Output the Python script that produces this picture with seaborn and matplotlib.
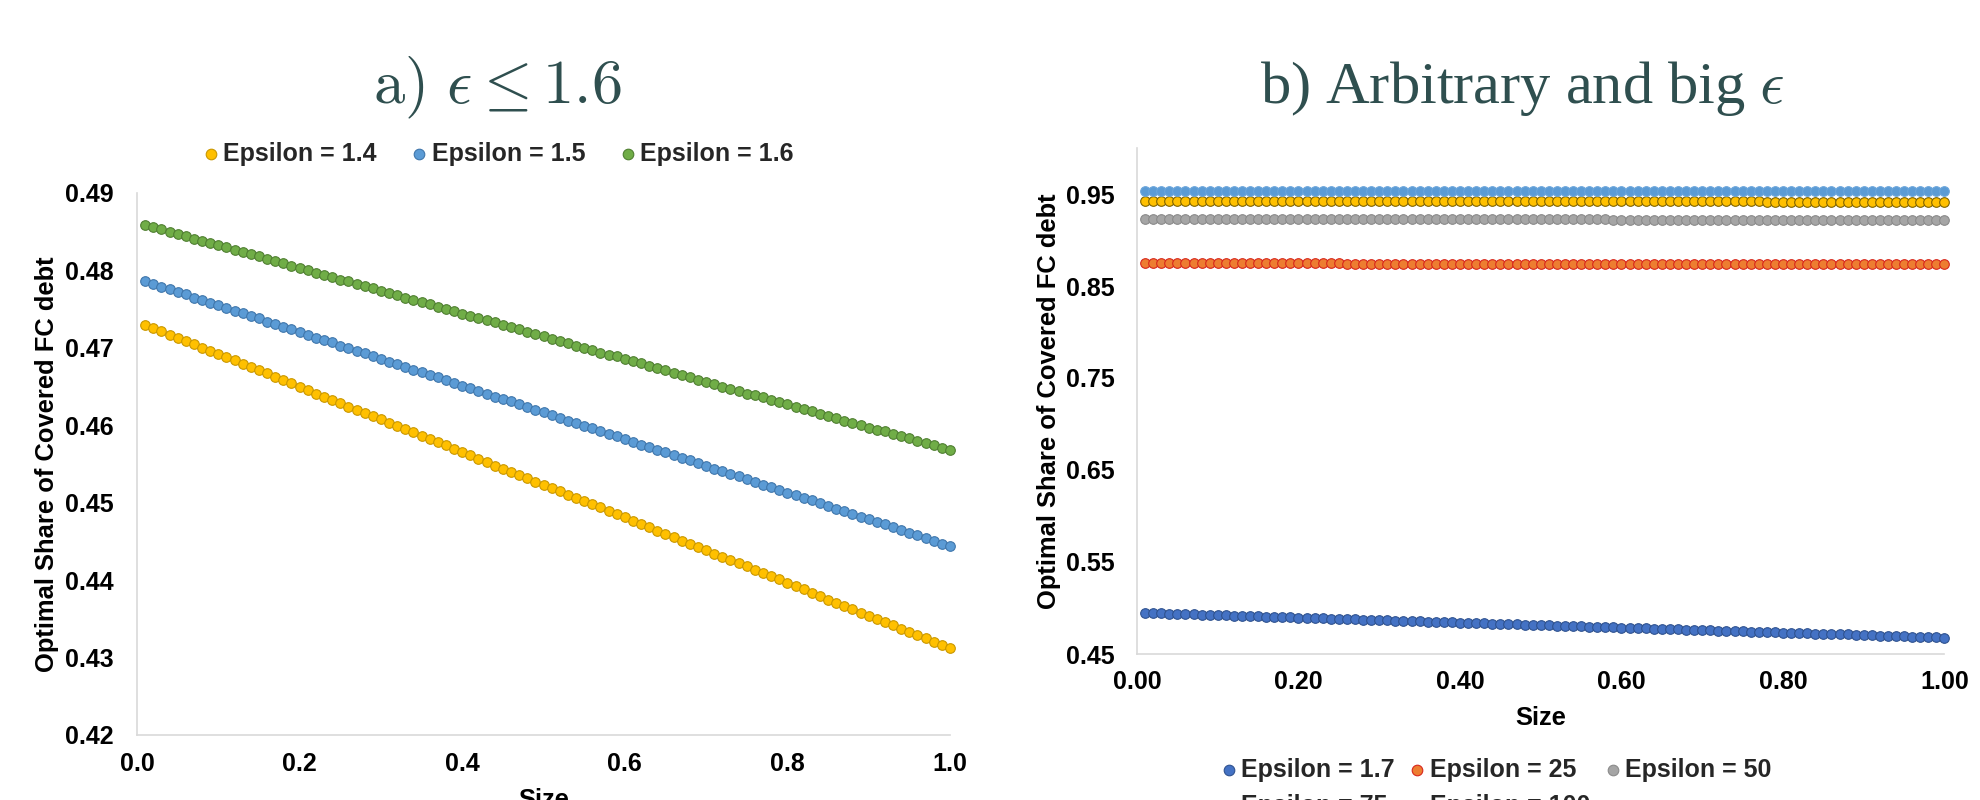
import matplotlib
matplotlib.use("Agg")
import matplotlib.pyplot as plt
from matplotlib.ticker import FormatStrFormatter
import pandas as pd
import seaborn as sns

# x grid (Size)
size = [0.01, 0.02, 0.03, 0.04, 0.05, 0.06, 0.07, 0.08, 0.09, 0.10,
        0.11, 0.12, 0.13, 0.14, 0.15, 0.16, 0.17, 0.18, 0.19, 0.20,
        0.21, 0.22, 0.23, 0.24, 0.25, 0.26, 0.27, 0.28, 0.29, 0.30,
        0.31, 0.32, 0.33, 0.34, 0.35, 0.36, 0.37, 0.38, 0.39, 0.40,
        0.41, 0.42, 0.43, 0.44, 0.45, 0.46, 0.47, 0.48, 0.49, 0.50,
        0.51, 0.52, 0.53, 0.54, 0.55, 0.56, 0.57, 0.58, 0.59, 0.60,
        0.61, 0.62, 0.63, 0.64, 0.65, 0.66, 0.67, 0.68, 0.69, 0.70,
        0.71, 0.72, 0.73, 0.74, 0.75, 0.76, 0.77, 0.78, 0.79, 0.80,
        0.81, 0.82, 0.83, 0.84, 0.85, 0.86, 0.87, 0.88, 0.89, 0.90,
        0.91, 0.92, 0.93, 0.94, 0.95, 0.96, 0.97, 0.98, 0.99, 1.00]

# panel a
eps_14 = [0.4730, 0.4726, 0.4722, 0.4717, 0.4713, 0.4709, 0.4705, 0.4700, 0.4696, 0.4692,
          0.4688, 0.4684, 0.4679, 0.4675, 0.4671, 0.4667, 0.4662, 0.4658, 0.4654, 0.4650,
          0.4646, 0.4641, 0.4637, 0.4633, 0.4629, 0.4624, 0.4620, 0.4616, 0.4612, 0.4608,
          0.4603, 0.4599, 0.4595, 0.4591, 0.4586, 0.4582, 0.4578, 0.4574, 0.4570, 0.4565,
          0.4561, 0.4557, 0.4553, 0.4548, 0.4544, 0.4540, 0.4536, 0.4532, 0.4527, 0.4523,
          0.4519, 0.4515, 0.4510, 0.4506, 0.4502, 0.4498, 0.4494, 0.4489, 0.4485, 0.4481,
          0.4477, 0.4472, 0.4468, 0.4464, 0.4460, 0.4456, 0.4451, 0.4447, 0.4443, 0.4439,
          0.4434, 0.4430, 0.4426, 0.4422, 0.4418, 0.4413, 0.4409, 0.4405, 0.4401, 0.4396,
          0.4392, 0.4388, 0.4384, 0.4380, 0.4375, 0.4371, 0.4367, 0.4363, 0.4358, 0.4354,
          0.4350, 0.4346, 0.4342, 0.4337, 0.4333, 0.4329, 0.4325, 0.4320, 0.4316, 0.4312]

eps_15 = [0.4786, 0.4783, 0.4779, 0.4776, 0.4772, 0.4769, 0.4765, 0.4762, 0.4758, 0.4755,
          0.4751, 0.4748, 0.4745, 0.4741, 0.4738, 0.4734, 0.4731, 0.4727, 0.4724, 0.4720,
          0.4717, 0.4713, 0.4710, 0.4707, 0.4703, 0.4700, 0.4696, 0.4693, 0.4689, 0.4686,
          0.4682, 0.4679, 0.4675, 0.4672, 0.4669, 0.4665, 0.4662, 0.4658, 0.4655, 0.4651,
          0.4648, 0.4644, 0.4641, 0.4637, 0.4634, 0.4631, 0.4627, 0.4624, 0.4620, 0.4617,
          0.4613, 0.4610, 0.4606, 0.4603, 0.4599, 0.4596, 0.4593, 0.4589, 0.4586, 0.4582,
          0.4579, 0.4575, 0.4572, 0.4568, 0.4565, 0.4561, 0.4558, 0.4555, 0.4551, 0.4548,
          0.4544, 0.4541, 0.4537, 0.4534, 0.4530, 0.4527, 0.4523, 0.4520, 0.4517, 0.4513,
          0.4510, 0.4506, 0.4503, 0.4499, 0.4496, 0.4492, 0.4489, 0.4485, 0.4482, 0.4479,
          0.4475, 0.4472, 0.4468, 0.4465, 0.4461, 0.4458, 0.4454, 0.4451, 0.4447, 0.4444]

eps_16 = [0.4859, 0.4856, 0.4853, 0.4850, 0.4847, 0.4844, 0.4841, 0.4838, 0.4835, 0.4833,
          0.4830, 0.4827, 0.4824, 0.4821, 0.4818, 0.4815, 0.4812, 0.4809, 0.4806, 0.4803,
          0.4800, 0.4797, 0.4794, 0.4791, 0.4788, 0.4786, 0.4783, 0.4780, 0.4777, 0.4774,
          0.4771, 0.4768, 0.4765, 0.4762, 0.4759, 0.4756, 0.4753, 0.4750, 0.4747, 0.4744,
          0.4741, 0.4738, 0.4736, 0.4733, 0.4730, 0.4727, 0.4724, 0.4721, 0.4718, 0.4715,
          0.4712, 0.4709, 0.4706, 0.4703, 0.4700, 0.4697, 0.4694, 0.4691, 0.4689, 0.4686,
          0.4683, 0.4680, 0.4677, 0.4674, 0.4671, 0.4668, 0.4665, 0.4662, 0.4659, 0.4656,
          0.4653, 0.4650, 0.4647, 0.4644, 0.4641, 0.4639, 0.4636, 0.4633, 0.4630, 0.4627,
          0.4624, 0.4621, 0.4618, 0.4615, 0.4612, 0.4609, 0.4606, 0.4603, 0.4600, 0.4597,
          0.4594, 0.4592, 0.4589, 0.4586, 0.4583, 0.4580, 0.4577, 0.4574, 0.4571, 0.4568]

# panel b
eps_17 = [0.4947, 0.4944, 0.4942, 0.4939, 0.4936, 0.4933, 0.4931, 0.4928, 0.4925, 0.4923,
          0.4920, 0.4917, 0.4915, 0.4912, 0.4909, 0.4906, 0.4904, 0.4901, 0.4898, 0.4896,
          0.4893, 0.4890, 0.4887, 0.4885, 0.4882, 0.4879, 0.4877, 0.4874, 0.4871, 0.4868,
          0.4866, 0.4863, 0.4860, 0.4858, 0.4855, 0.4852, 0.4850, 0.4847, 0.4844, 0.4841,
          0.4839, 0.4836, 0.4833, 0.4831, 0.4828, 0.4825, 0.4822, 0.4820, 0.4817, 0.4814,
          0.4812, 0.4809, 0.4806, 0.4804, 0.4801, 0.4798, 0.4795, 0.4793, 0.4790, 0.4787,
          0.4785, 0.4782, 0.4779, 0.4776, 0.4774, 0.4771, 0.4768, 0.4766, 0.4763, 0.4760,
          0.4758, 0.4755, 0.4752, 0.4749, 0.4747, 0.4744, 0.4741, 0.4739, 0.4736, 0.4733,
          0.4730, 0.4728, 0.4725, 0.4722, 0.4720, 0.4717, 0.4714, 0.4712, 0.4709, 0.4706,
          0.4703, 0.4701, 0.4698, 0.4695, 0.4693, 0.4690, 0.4687, 0.4684, 0.4682, 0.4679]

eps_25 = [0.8748, 0.8748, 0.8748, 0.8748, 0.8747, 0.8747, 0.8747, 0.8747, 0.8747, 0.8747,
          0.8747, 0.8746, 0.8746, 0.8746, 0.8746, 0.8746, 0.8746, 0.8746, 0.8745, 0.8745,
          0.8745, 0.8745, 0.8745, 0.8745, 0.8745, 0.8744, 0.8744, 0.8744, 0.8744, 0.8744,
          0.8744, 0.8744, 0.8743, 0.8743, 0.8743, 0.8743, 0.8743, 0.8743, 0.8743, 0.8742,
          0.8742, 0.8742, 0.8742, 0.8742, 0.8742, 0.8742, 0.8741, 0.8741, 0.8741, 0.8741,
          0.8741, 0.8741, 0.8741, 0.8740, 0.8740, 0.8740, 0.8740, 0.8740, 0.8740, 0.8740,
          0.8739, 0.8739, 0.8739, 0.8739, 0.8739, 0.8739, 0.8739, 0.8738, 0.8738, 0.8738,
          0.8738, 0.8738, 0.8738, 0.8738, 0.8737, 0.8737, 0.8737, 0.8737, 0.8737, 0.8737,
          0.8737, 0.8736, 0.8736, 0.8736, 0.8736, 0.8736, 0.8736, 0.8736, 0.8735, 0.8735,
          0.8735, 0.8735, 0.8735, 0.8735, 0.8735, 0.8734, 0.8734, 0.8734, 0.8734, 0.8734]

eps_50 = [0.9229, 0.9229, 0.9229, 0.9229, 0.9228, 0.9228, 0.9228, 0.9228, 0.9228, 0.9228,
          0.9228, 0.9228, 0.9228, 0.9227, 0.9227, 0.9227, 0.9227, 0.9227, 0.9227, 0.9227,
          0.9227, 0.9227, 0.9226, 0.9226, 0.9226, 0.9226, 0.9226, 0.9226, 0.9226, 0.9226,
          0.9226, 0.9225, 0.9225, 0.9225, 0.9225, 0.9225, 0.9225, 0.9225, 0.9225, 0.9225,
          0.9224, 0.9224, 0.9224, 0.9224, 0.9224, 0.9224, 0.9224, 0.9224, 0.9224, 0.9223,
          0.9223, 0.9223, 0.9223, 0.9223, 0.9223, 0.9223, 0.9223, 0.9223, 0.9222, 0.9222,
          0.9222, 0.9222, 0.9222, 0.9222, 0.9222, 0.9222, 0.9222, 0.9221, 0.9221, 0.9221,
          0.9221, 0.9221, 0.9221, 0.9221, 0.9221, 0.9221, 0.9220, 0.9220, 0.9220, 0.9220,
          0.9220, 0.9220, 0.9220, 0.9220, 0.9220, 0.9219, 0.9219, 0.9219, 0.9219, 0.9219,
          0.9219, 0.9219, 0.9219, 0.9219, 0.9218, 0.9218, 0.9218, 0.9218, 0.9218, 0.9218]

eps_75 = [0.9427, 0.9427, 0.9427, 0.9427, 0.9427, 0.9426, 0.9426, 0.9426, 0.9426, 0.9426,
          0.9426, 0.9426, 0.9426, 0.9426, 0.9425, 0.9425, 0.9425, 0.9425, 0.9425, 0.9425,
          0.9425, 0.9425, 0.9425, 0.9424, 0.9424, 0.9424, 0.9424, 0.9424, 0.9424, 0.9424,
          0.9424, 0.9424, 0.9423, 0.9423, 0.9423, 0.9423, 0.9423, 0.9423, 0.9423, 0.9423,
          0.9423, 0.9422, 0.9422, 0.9422, 0.9422, 0.9422, 0.9422, 0.9422, 0.9422, 0.9422,
          0.9421, 0.9421, 0.9421, 0.9421, 0.9421, 0.9421, 0.9421, 0.9421, 0.9421, 0.9420,
          0.9420, 0.9420, 0.9420, 0.9420, 0.9420, 0.9420, 0.9420, 0.9420, 0.9419, 0.9419,
          0.9419, 0.9419, 0.9419, 0.9419, 0.9419, 0.9419, 0.9419, 0.9418, 0.9418, 0.9418,
          0.9418, 0.9418, 0.9418, 0.9418, 0.9418, 0.9418, 0.9417, 0.9417, 0.9417, 0.9417,
          0.9417, 0.9417, 0.9417, 0.9417, 0.9417, 0.9417, 0.9417, 0.9417, 0.9417, 0.9417]

eps_100 = [0.9536, 0.9536, 0.9536, 0.9536, 0.9536, 0.9536, 0.9536, 0.9536, 0.9536, 0.9536,
           0.9536, 0.9535, 0.9535, 0.9535, 0.9535, 0.9535, 0.9535, 0.9535, 0.9535, 0.9535,
           0.9535, 0.9535, 0.9534, 0.9534, 0.9534, 0.9534, 0.9534, 0.9534, 0.9534, 0.9534,
           0.9534, 0.9534, 0.9534, 0.9534, 0.9533, 0.9533, 0.9533, 0.9533, 0.9533, 0.9533,
           0.9533, 0.9533, 0.9533, 0.9533, 0.9533, 0.9533, 0.9532, 0.9532, 0.9532, 0.9532,
           0.9532, 0.9532, 0.9532, 0.9532, 0.9532, 0.9532, 0.9532, 0.9532, 0.9531, 0.9531,
           0.9531, 0.9531, 0.9531, 0.9531, 0.9531, 0.9531, 0.9531, 0.9531, 0.9531, 0.9531,
           0.9530, 0.9530, 0.9530, 0.9530, 0.9530, 0.9530, 0.9530, 0.9530, 0.9530, 0.9530,
           0.9530, 0.9530, 0.9529, 0.9529, 0.9529, 0.9529, 0.9529, 0.9529, 0.9529, 0.9529,
           0.9529, 0.9529, 0.9529, 0.9529, 0.9528, 0.9528, 0.9528, 0.9528, 0.9528, 0.9528]

left_labels = ['Epsilon = 1.4', 'Epsilon = 1.5', 'Epsilon = 1.6']
right_labels = ['Epsilon = 1.7', 'Epsilon = 25', 'Epsilon = 50', 'Epsilon = 75', 'Epsilon = 100']
left_yticks = [0.42, 0.43, 0.44, 0.45, 0.46, 0.47, 0.48, 0.49]
left_xticks = [0.0, 0.2, 0.4, 0.6, 0.8, 1.0]
right_yticks = [0.45, 0.55, 0.65, 0.75, 0.85, 0.95]
right_xticks = [0.0, 0.2, 0.4, 0.6, 0.8, 1.0]

left_fill = ['#FFC000', '#5B9BD5', '#70AD47']
left_edge = ['#C99700', '#3F76AB', '#4F7F31']
right_fill = ['#4472C4', '#ED7D31', '#A5A5A5', '#FFC000', '#5B9BD5']
right_edge = ['#2F528F', '#D8261C', '#8A8A8A', '#7F6400', '#6AA5DB']

df_left = pd.DataFrame({'Size': size * 3,
                        'Share': eps_14 + eps_15 + eps_16,
                        'Series': [lab for lab in left_labels for _ in size]})
df_right = pd.DataFrame({'Size': size * 5,
                         'Share': eps_17 + eps_25 + eps_50 + eps_75 + eps_100,
                         'Series': [lab for lab in right_labels for _ in size]})

sns.set_theme(style='white')
plt.rcParams['font.family'] = ['Liberation Sans', 'DejaVu Sans']
plt.rcParams['mathtext.fontset'] = 'cm'

W, H = 1981, 800
fig = plt.figure(figsize=(W / 100, H / 100), dpi=100)
ax1 = fig.add_axes([137 / W, 1 - 735 / H, (950 - 137) / W, (735 - 193) / H])
ax2 = fig.add_axes([1137 / W, 1 - 654 / H, (1944.5 - 1137) / W, (654 - 148) / H])

for lab, fc, ec in zip(left_labels, left_fill, left_edge):
    sns.scatterplot(data=df_left[df_left['Series'] == lab], x='Size', y='Share', ax=ax1,
                    color=fc, edgecolor=ec, linewidth=0.8, s=48, label=lab,
                    clip_on=False, zorder=3)
for lab, fc, ec in zip(right_labels, right_fill, right_edge):
    sns.scatterplot(data=df_right[df_right['Series'] == lab], x='Size', y='Share', ax=ax2,
                    color=fc, edgecolor=ec, linewidth=0.8, s=48, label=lab,
                    clip_on=False, zorder=3)

def style_axis(ax, xticks, yticks, xfmt, yfmt, ylim, xpad, ypad):
    ax.set_xlim(0, 1.0)
    ax.set_ylim(*ylim)
    ax.set_xticks(xticks)
    ax.set_yticks(yticks)
    ax.xaxis.set_major_formatter(FormatStrFormatter(xfmt))
    ax.yaxis.set_major_formatter(FormatStrFormatter(yfmt))
    sns.despine(ax=ax)
    for side in ['left', 'bottom']:
        ax.spines[side].set_color('#D9D9D9')
        ax.spines[side].set_linewidth(1.2)
    ax.tick_params(axis='x', length=0, labelsize=18, pad=xpad, colors='black')
    ax.tick_params(axis='y', length=0, labelsize=18, pad=ypad, colors='black')
    for t in ax.get_xticklabels() + ax.get_yticklabels():
        t.set_fontweight('bold')
    ax.set_xlabel('Size', fontsize=18.4, fontweight='bold', color='black')
    ax.set_ylabel('Optimal Share of Covered FC debt', fontsize=18.4, fontweight='bold',
                  color='black')
    ax.grid(False)

style_axis(ax1, left_xticks, left_yticks, '%.1f', '%.2f', (0.42, 0.49), 12, 16.5)
style_axis(ax2, right_xticks, right_yticks, '%.2f', '%.2f', (0.45, 1.0), 11.5, 16)
ax1.xaxis.set_label_coords(0.5, (735 - 788) / 542)
ax2.xaxis.set_label_coords(0.5, (654 - 706) / 506)
ax1.yaxis.set_label_coords((59 - 137) / 813, 0.5)
ax2.yaxis.set_label_coords((1061 - 1137) / 807.5, 0.5)

# legends
h1, l1 = ax1.get_legend_handles_labels()
ax1.legend(h1, l1, loc='center left', bbox_to_anchor=(192 / W, 1 - 154 / H),
           bbox_transform=fig.transFigure, ncol=3, frameon=False, borderpad=0,
           handlelength=0.5, handletextpad=0.25, columnspacing=1.45, markerscale=1.1,
           prop={'size': 18, 'weight': 'bold'})

h2, l2 = ax2.get_legend_handles_labels()
order = [0, 3, 1, 4, 2]
ax2.legend([h2[i] for i in order], [l2[i] for i in order], loc='upper left',
           bbox_to_anchor=(1210 / W, 1 - 745 / H), bbox_transform=fig.transFigure,
           ncol=3, frameon=False, borderpad=0, handlelength=0.5, handletextpad=0.25,
           columnspacing=0.65, labelspacing=0.5, markerscale=1.1,
           prop={'size': 18, 'weight': 'bold'})

# titles
title_color = '#2F4F4F'
fig.text(497 / W, 1 - 103 / H, r'$\mathrm{a)}\ \epsilon \leq 1.6$', ha='center',
         va='baseline', fontsize=45, color=title_color)
fig.text(1522 / W, 1 - 103 / H, r'b) Arbitrary and big $\epsilon$', family='Liberation Serif',
         ha='center', va='baseline', fontsize=43.5, color=title_color)

fig.savefig('out.png', dpi=100)
plt.close(fig)
